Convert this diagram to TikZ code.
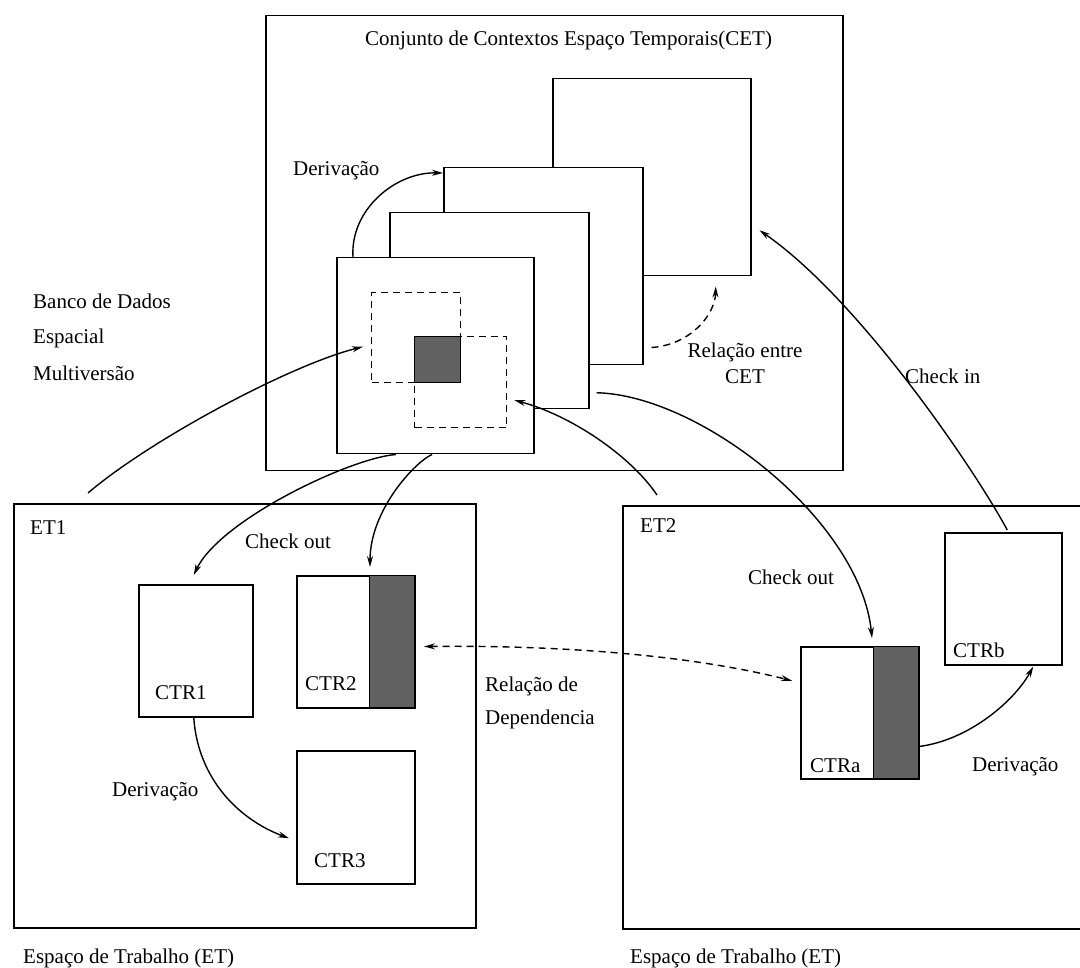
\documentclass[tikz,border=0pt]{standalone}
\usepackage{fontspec}
\setmainfont{Liberation Serif}
\newfontfamily\lblfont{Liberation Serif}
\usetikzlibrary{arrows.meta,calc}
\begin{document}
\begin{tikzpicture}[x=1pt,y=-1pt,
  box/.style={draw, line width=1.5pt, fill=white, inner sep=0pt, anchor=north west},
  dbox/.style={draw, line width=1.4pt, dash pattern=on 7pt off 5pt, inner sep=0pt, anchor=north west},
  shadebox/.style={draw, line width=1pt, fill=black!62, inner sep=0pt, anchor=north west},
  arr/.style={line width=1.4pt, -{Stealth[length=11pt,width=6pt]}},
  darr/.style={line width=1.4pt, dash pattern=on 7pt off 5pt, {Stealth[length=11pt,width=6pt]}-{Stealth[length=11pt,width=6pt]}},
  lbl/.style={inner sep=0pt, anchor=base west, font=\lblfont\fontsize{21}{25}\selectfont}]
\useasboundingbox (0,0) rectangle (1080,968);
\clip (0,0) rectangle (1080,968);
\fill[white] (0,0) rectangle (1080,968);

% CET box and contexts
\node[box, minimum width=577pt, minimum height=455pt] (cet) at (265,15) {};
\node[box, minimum width=198pt, minimum height=197pt] (sq4) at (552,78) {};
\node[box, minimum width=199pt, minimum height=197pt] (sq3) at (443,167) {};
\node[box, minimum width=199pt, minimum height=196pt] (sq2) at (389,212) {};
\node[box, minimum width=197pt, minimum height=196pt] (sq1) at (336,257) {};
\node[dbox, minimum width=89pt, minimum height=90pt] (d1) at (371,292) {};
\node[dbox, minimum width=92pt, minimum height=91pt] (d2) at (414,336) {};
\node[shadebox, minimum width=46pt, minimum height=46pt] (core) at (414,336) {};

% Work spaces
\node[box, minimum width=462pt, minimum height=424pt] (et1) at (13,503) {};
\node[box, minimum width=470pt, minimum height=423pt] (et2) at (622,505) {};

\node[box, minimum width=114pt, minimum height=132pt] (ctr1) at (138,584) {};
\node[box, minimum width=118pt, minimum height=132pt] (ctr2) at (296,575) {};
\node[shadebox, minimum width=45pt, minimum height=132pt] (ctr2s) at (369,575) {};
\node[box, minimum width=118pt, minimum height=133pt] (ctr3) at (296,750) {};
\node[box, minimum width=118pt, minimum height=132pt] (ctra) at (800,646) {};
\node[shadebox, minimum width=45pt, minimum height=132pt] (ctras) at (873,646) {};
\node[box, minimum width=117pt, minimum height=132pt] (ctrb) at (944,532) {};

% Connectors
\draw[arr] ($(sq1.north west)+(17,0)$) .. controls (350,210) and (395,172) .. ($(sq3.north west)+(0,6)$);
\draw[arr] ($(et1.north west)+(75,-10)$) .. controls (150,440) and (290,365) .. ($(d1.west)+(-8,9)$);
\draw[arr, dash pattern=on 7pt off 5pt] ($(sq3.south east)+(8,-18)$) .. controls (690,345) and (715,315) .. ($(sq4.south)+(64,10)$);
\draw[arr] ($(sq1.south west)+(60,0)$) .. controls (350,458) and (220,520) .. ($(ctr1.north)+(-2,-9)$);
\draw[arr] ($(sq1.south west)+(96,0)$) .. controls (415,462) and (370,510) .. ($(ctr2s.north west)+(1,-8)$);
\draw[arr] ($(sq2.east)+(7,82)$) .. controls (700,395) and (860,520) .. ($(ctras.north west)+(-1,-8)$);
\draw[arr] ($(et2.north west)+(35,-10)$) .. controls (630,455) and (570,415) .. ($(d2.east)+(7,18)$);
\draw[darr] ($(ctr2s.east)+(9,5)$) .. controls (560,645) and (690,655) .. ($(ctra.west)+(-8,-32)$);
\draw[arr] ($(ctr1.south)+(-2,0)$) .. controls (198,780) and (240,820) .. ($(ctr3.west)+(-7,21)$);
\draw[arr] ($(ctras.east)+(0,34)$) .. controls (970,740) and (1015,700) .. ($(ctrb.south)+(30,1)$);
\draw[arr] ($(ctrb.north)+(4,-2)$) .. controls (975,470) and (860,300) .. ($(sq4.east)+(8,53)$);

% Labels
\node[lbl] (title) at (365,46) {Conjunto de Contextos Espaço Temporais(CET)};
\node[lbl] (lder1) at (293,176) {Derivação};
\node[lbl] (lbd1) at (33,309) {Banco de Dados};
\node[lbl] (lbd2) at (33,344) {Espacial};
\node[lbl] (lbd3) at (33,381) {Multiversão};
\node[lbl, anchor=base] (lrel1) at (745,358) {Relação entre};
\node[lbl, anchor=base] (lrel2) at (745,384) {CET};
\node[lbl] (lcin) at (905,384) {Check in};
\node[lbl] (let1) at (30,534) {ET1};
\node[lbl] (lco1) at (245,548) {Check out};
\node[lbl] (lctr1) at (155,699) {CTR1};
\node[lbl] (lctr2) at (305,690) {CTR2};
\node[lbl] (lctr3) at (314,867) {CTR3};
\node[lbl] (ldep1) at (485,691) {Relação de};
\node[lbl] (ldep2) at (485,724) {Dependencia};
\node[lbl] (lder2) at (112,796) {Derivação};
\node[lbl] (let2) at (640,532) {ET2};
\node[lbl] (lco2) at (748,584) {Check out};
\node[lbl] (lctra) at (810,772) {CTRa};
\node[lbl] (lctrb) at (953,657) {CTRb};
\node[lbl] (lder3) at (972,771) {Derivação};
\node[lbl] (les1) at (23,963) {Espaço de Trabalho (ET)};
\node[lbl] (les2) at (630,963) {Espaço de Trabalho (ET)};
\end{tikzpicture}
\end{document}
